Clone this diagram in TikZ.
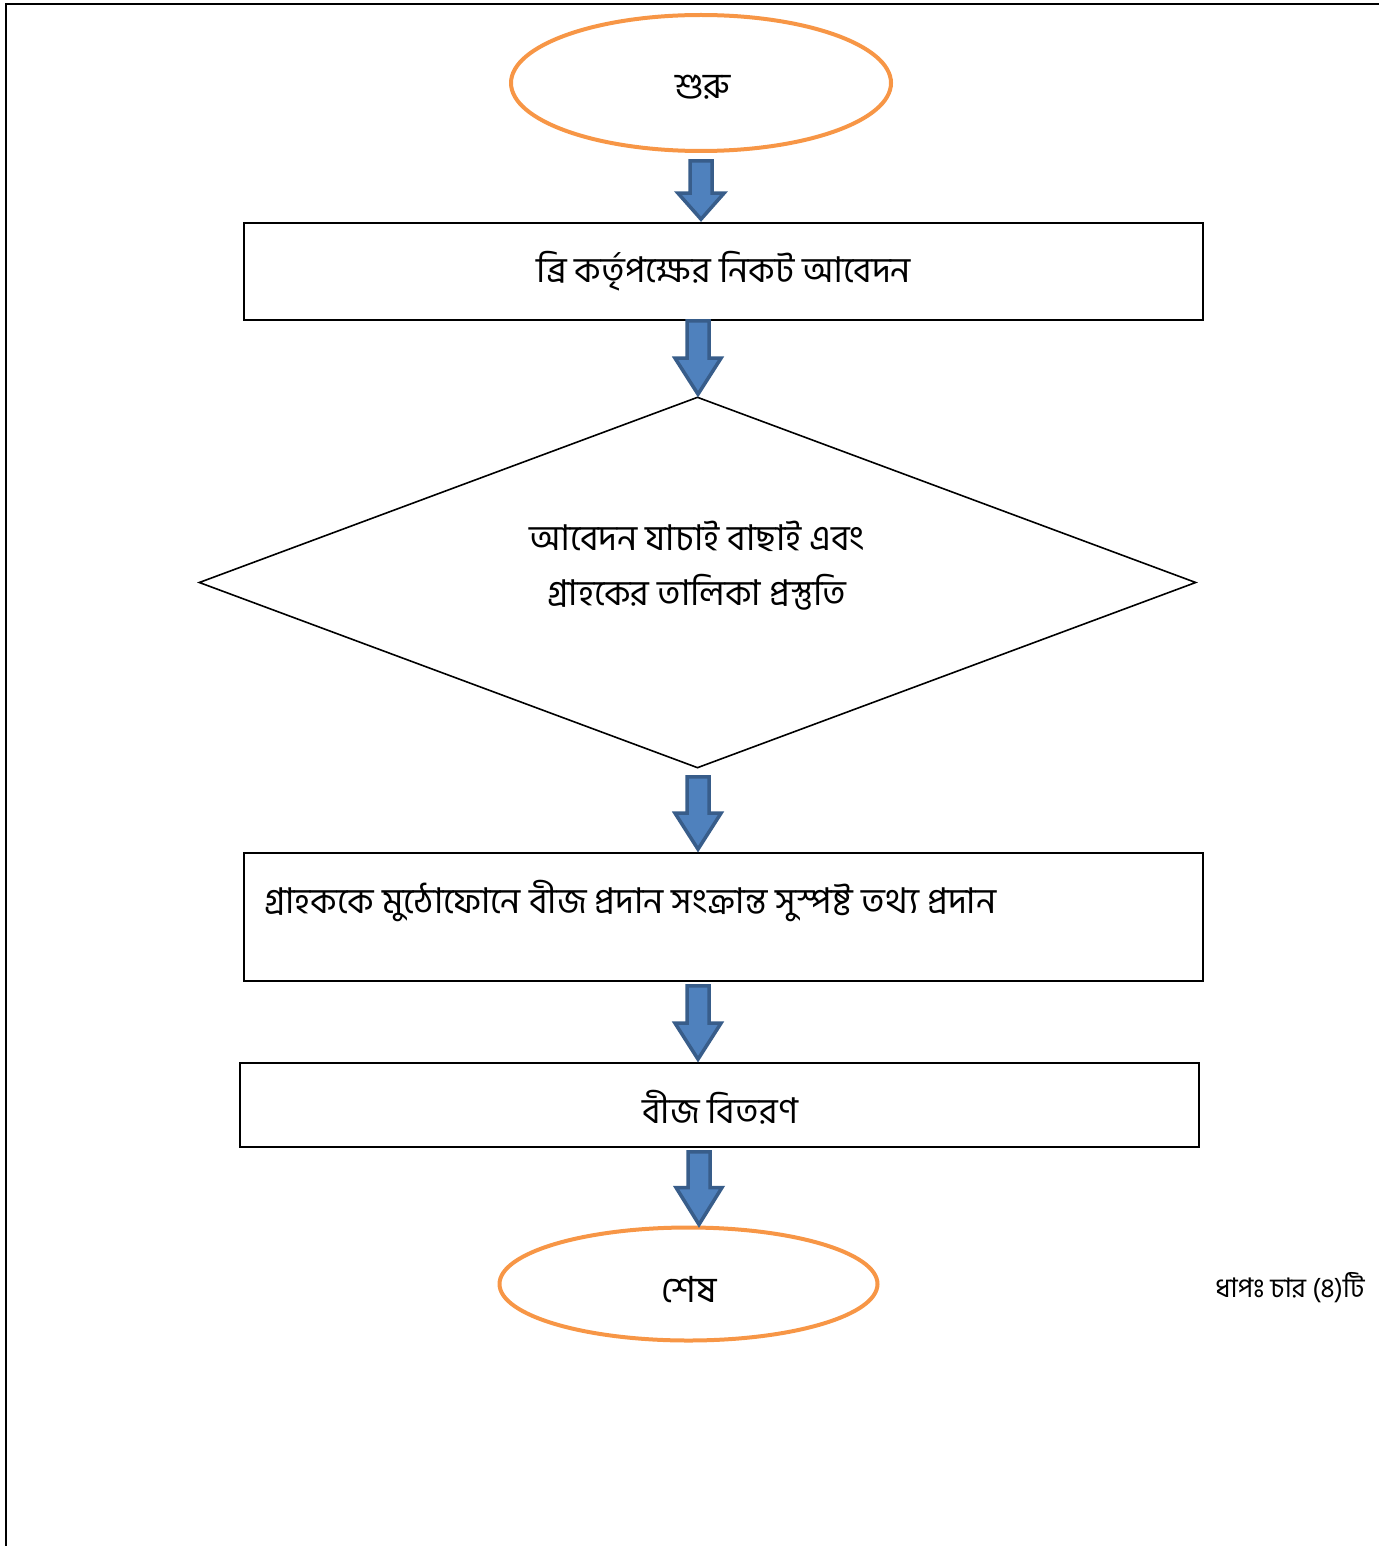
\documentclass[tikz,border=0pt]{standalone}
\usepackage{fontspec}
\newfontfamily\bn[Script=Bengali]{Hind Siliguri}
\usetikzlibrary{shapes.geometric,calc}
\definecolor{orng}{HTML}{F79646}
\definecolor{bfill}{HTML}{4F81BD}
\definecolor{bline}{HTML}{385D8A}
\tikzset{
  termnode/.style={ellipse, draw=orng, line width=4pt, inner sep=0pt, font=\bn\fontsize{36}{44}\selectfont},
  boxnode/.style={rectangle, draw=black, line width=1.6pt, inner sep=0pt},
  txt/.style={inner sep=0pt, font=\bn\fontsize{35.5}{55}\selectfont},
  blockarr/.style={fill=bfill, draw=bline, line width=3.5pt, line join=miter},
}
% block arrow from coordinate #1 (top of shaft) to #2 (tip)
\newcommand{\blockarrow}[3]{%
  \draw[blockarr] ($(#1)+(-11,0)$) -- ($(#1)+(11,0)$) -- ($(#2)+(11,-#3)$) -- ($(#2)+(23,-#3)$) -- (#2) -- ($(#2)+(-23,-#3)$) -- ($(#2)+(-11,-#3)$) -- cycle;}
\begin{document}
\begin{tikzpicture}[x=1pt,y=-1pt]
\useasboundingbox (0,0) rectangle (1379,1546);
% frame
\draw[line width=2.2pt] (6,1546) -- (6,4) -- (1379,4);
% nodes
\node[termnode, minimum width=380pt, minimum height=136pt] (start) at (701,83) {};
\node[txt, font=\bn\fontsize{36}{44}\selectfont] (ts) at (703,87) {শুরু};
\node[boxnode, minimum width=959pt, minimum height=97pt] (b1) at (723.5,271.5) {};
\node[txt] (t1) at (724,271) {ব্রি কর্তৃপক্ষের নিকট আবেদন};
\node[diamond, draw=black, line width=1.6pt, inner sep=0pt, minimum width=997pt, minimum height=371pt] (d1) at (697.5,582.5) {};
\node[txt, align=center] (t2) at (697,566) {আবেদন যাচাই বাছাই এবং\\গ্রাহকের তালিকা প্রস্তুতি};
\node[boxnode, minimum width=959pt, minimum height=128pt] (b2) at (723.5,917) {};
\node[txt, anchor=west] (t3) at (264,901) {গ্রাহককে মুঠোফোনে বীজ প্রদান সংক্রান্ত সুস্পষ্ট তথ্য প্রদান};
\node[boxnode, minimum width=959pt, minimum height=84pt] (b3) at (719.5,1105) {};
\node[txt] (t4) at (720,1107) {বীজ বিতরণ};
\node[termnode, minimum width=378pt, minimum height=113pt] (end) at (688.5,1284) {};
\node[txt, font=\bn\fontsize{36}{44}\selectfont] (te) at (689,1290) {শেষ};
\node[txt, font=\bn\fontsize{27}{32}\selectfont] (note) at (1290,1288) {ধাপঃ চার (৪)টি};
% arrow coordinates
\coordinate (a1s) at ($(start.south)+(0,8)$);
\coordinate (a1e) at ($(b1.north)+(-22.5,-3)$);
\coordinate (a2s) at ($(b1.south)+(-25.5,0)$);
\coordinate (a2e) at ($(d1.north)+(0.5,-2)$);
\coordinate (a3s) at ($(d1.south)+(0.5,8)$);
\coordinate (a3e) at ($(b2.north)+(-25.5,-3)$);
\coordinate (a4s) at ($(b2.south)+(-25.5,4)$);
\coordinate (a4e) at ($(b3.north)+(-21.5,-3)$);
\coordinate (a5s) at ($(b3.south)+(-20.5,4)$);
\coordinate (a5e) at ($(end.north)+(10.5,-1)$);
\blockarrow{a1s}{a1e}{26}
\blockarrow{a2s}{a2e}{36}
\blockarrow{a3s}{a3e}{36}
\blockarrow{a4s}{a4e}{36}
\blockarrow{a5s}{a5e}{37}
\end{tikzpicture}
\end{document}
